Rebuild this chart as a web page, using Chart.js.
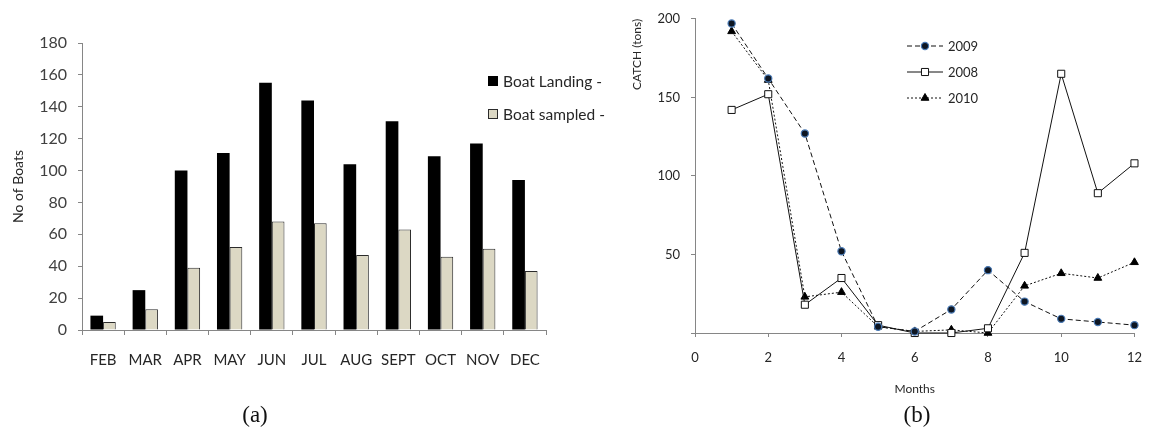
<!DOCTYPE html>
<html>
<head>
<meta charset="utf-8">
<script src="https://cdn.jsdelivr.net/npm/chart.js@4/dist/chart.umd.min.js"></script>
<style>
  html, body { margin: 0; padding: 0; background: #fff; }
  body { width: 1155px; height: 434px; position: relative; overflow: hidden; }
  canvas { position: absolute; top: 0; }
  #boats { left: 0; }
  #catch { left: 580px; }
  .cap { position: absolute; top: 402px; font: 23px "Liberation Serif", "Times New Roman", serif; color: #111; transform: translateX(-50%); }
</style>
</head>
<body>
<canvas id="boats" width="640" height="434"></canvas>
<canvas id="catch" width="575" height="434"></canvas>
<div class="cap" style="left:255px">(a)</div>
<div class="cap" style="left:917px">(b)</div>
<script>
// Panel (a): boats landed and sampled per month
const monthNames = ['FEB', 'MAR', 'APR', 'MAY', 'JUN', 'JUL', 'AUG', 'SEPT', 'OCT', 'NOV', 'DEC'];
const boatLanding = [9, 25, 100, 111, 155, 144, 104, 131, 109, 117, 94];
const boatSampled = [5, 13, 39, 52, 68, 67, 47, 63, 46, 51, 37];

// Panel (b): monthly catch by year
const monthNumbers = [1, 2, 3, 4, 5, 6, 7, 8, 9, 10, 11, 12];
const catch2009 = [197, 162, 127, 52, 4, 1, 15, 40, 20, 9, 7, 5];
const catch2008 = [142, 152, 18, 35, 5, 0, 0, 3, 51, 165, 89, 108];
const catch2010 = [192, 161, 23, 26, 4, 1, 2, 0, 30, 38, 35, 45];

const FONT = 'Lato, "Open Sans", "Liberation Sans", sans-serif';
const AXIS = '#868686';
const TEXT = '#262626';

// Legend drawn inside the plot: square swatches for the bars
const barLegend = {
  id: 'barLegend',
  afterDraw(chart, args, opts) {
    const ctx = chart.ctx;
    ctx.save();
    ctx.font = '15.5px ' + FONT;
    ctx.textBaseline = 'middle';
    chart.data.datasets.forEach((ds, i) => {
      const y = opts.y + i * opts.gap;
      ctx.fillStyle = ds.backgroundColor;
      ctx.fillRect(opts.x, y - 5, 10, 10);
      if (ds.borderWidth) {
        ctx.strokeStyle = ds.borderColor;
        ctx.lineWidth = 1;
        ctx.strokeRect(opts.x + 0.5, y - 4.5, 9, 9);
      }
      ctx.fillStyle = TEXT;
      ctx.fillText(ds.label, opts.x + 15, y + 1);
    });
    ctx.restore();
  }
};

// Legend with a line sample and marker for each year
const lineLegend = {
  id: 'lineLegend',
  afterDraw(chart, args, opts) {
    const ctx = chart.ctx;
    ctx.save();
    chart.data.datasets.forEach((ds, i) => {
      const y = opts.y + i * opts.gap;
      const cx = opts.x + opts.len / 2;
      ctx.strokeStyle = ds.borderColor;
      ctx.lineWidth = ds.borderWidth;
      ctx.setLineDash(ds.borderDash || []);
      ctx.beginPath();
      ctx.moveTo(opts.x, y);
      ctx.lineTo(opts.x + opts.len, y);
      ctx.stroke();
      ctx.setLineDash([]);
      ctx.fillStyle = ds.pointBackgroundColor;
      ctx.strokeStyle = ds.pointBorderColor;
      ctx.lineWidth = ds.pointBorderWidth;
      Chart.helpers.drawPoint(ctx, {
        pointStyle: ds.pointStyle, radius: ds.pointRadius,
        borderWidth: ds.pointBorderWidth, rotation: 0
      }, cx, y);
      ctx.fillStyle = TEXT;
      ctx.font = '13px ' + FONT;
      ctx.textBaseline = 'middle';
      ctx.fillText(ds.label, opts.x + opts.len + 5, y + 1);
    });
    ctx.restore();
  }
};

new Chart(document.getElementById('boats'), {
  type: 'bar',
  data: {
    labels: monthNames,
    datasets: [
      { label: 'Boat Landing -', data: boatLanding, backgroundColor: '#000000', borderWidth: 0 },
      { label: 'Boat sampled -', data: boatSampled, backgroundColor: '#dcd8c4', borderColor: '#2b2b2b', borderWidth: 1 }
    ]
  },
  options: {
    responsive: false,
    animation: false,
    events: [],
    layout: { padding: { left: 0, right: 94, top: 43, bottom: 60 } },
    datasets: { bar: { categoryPercentage: 0.6, barPercentage: 1.0 } },
    plugins: {
      legend: { display: false },
      tooltip: { enabled: false },
      barLegend: { x: 488, y: 81, gap: 33 }
    },
    scales: {
      x: {
        afterFit(s) { s.height = 44; },
        grid: { drawOnChartArea: false, drawTicks: true, tickLength: 5, color: AXIS, offset: true },
        border: { color: AXIS, width: 1 },
        ticks: { color: TEXT, font: { family: FONT, size: 15 }, padding: 16, maxRotation: 0, autoSkip: false }
      },
      y: {
        min: 0, max: 180,
        afterFit(s) { s.width = 82; },
        grid: { drawOnChartArea: false, drawTicks: true, tickLength: 4, color: AXIS },
        border: { color: AXIS, width: 1 },
        ticks: { stepSize: 20, color: '#404040', font: { family: FONT, size: 16 }, padding: 11 },
        title: { display: true, text: 'No of Boats', color: TEXT, font: { family: FONT, size: 14 }, padding: { top: 10, bottom: 0 } }
      }
    }
  },
  plugins: [barLegend]
});

const pts = (vals) => monthNumbers.map((m, i) => ({ x: m, y: vals[i] }));

new Chart(document.getElementById('catch'), {
  type: 'line',
  data: {
    datasets: [
      {
        label: '2009', data: pts(catch2009),
        borderColor: '#111', borderWidth: 1, borderDash: [5, 3],
        pointStyle: 'circle', pointRadius: 3.6,
        pointBackgroundColor: '#0e1622', pointBorderColor: '#4a7ab5', pointBorderWidth: 1.2
      },
      {
        label: '2008', data: pts(catch2008),
        borderColor: '#111', borderWidth: 1, borderDash: [],
        pointStyle: 'rect', pointRadius: 5,
        pointBackgroundColor: '#ffffff', pointBorderColor: '#111', pointBorderWidth: 1
      },
      {
        label: '2010', data: pts(catch2010),
        borderColor: '#111', borderWidth: 1, borderDash: [2, 2],
        pointStyle: 'triangle', pointRadius: 4.5,
        pointBackgroundColor: '#000000', pointBorderColor: '#000000', pointBorderWidth: 1
      }
    ]
  },
  options: {
    responsive: false,
    animation: false,
    events: [],
    layout: { padding: { left: 0, right: 12, top: 18, bottom: 35 } },
    elements: { line: { tension: 0 } },
    datasets: { line: { clip: false } },
    plugins: {
      legend: { display: false },
      tooltip: { enabled: false },
      lineLegend: { x: 327, y: 46, gap: 26, len: 36 }
    },
    scales: {
      x: {
        type: 'linear', min: 0, max: 12,
        afterFit(s) { s.height = 66; },
        grid: { drawOnChartArea: false, drawTicks: true, tickLength: 4, color: AXIS },
        border: { color: AXIS, width: 1 },
        ticks: { stepSize: 2, color: TEXT, font: { family: FONT, size: 13 }, padding: 13 },
        title: { display: true, text: 'Months', color: TEXT, font: { family: FONT, size: 12 }, padding: { top: 0, bottom: 3 } }
      },
      y: {
        min: 0, max: 200,
        afterFit(s) { s.width = 115; },
        grid: { drawOnChartArea: false, drawTicks: true, tickLength: 4, color: AXIS },
        border: { color: AXIS, width: 1 },
        ticks: { stepSize: 50, color: TEXT, font: { family: FONT, size: 13 }, padding: 11,
                 callback: (v) => (v === 0 ? '' : v) },
        title: { display: true, text: 'CATCH (tons)', align: 'end', color: TEXT, font: { family: FONT, size: 12 }, padding: { top: 50, bottom: 0 } }
      }
    }
  },
  plugins: [lineLegend]
});
</script>
</body>
</html>
